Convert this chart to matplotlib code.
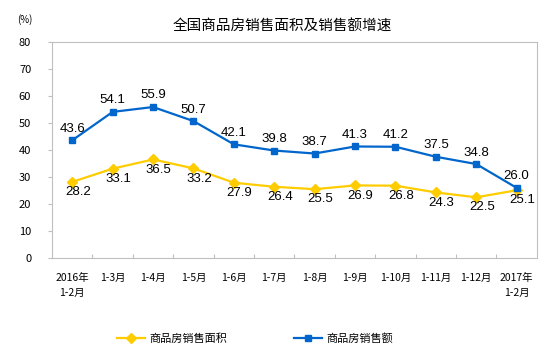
import matplotlib.pyplot as plt

plt.rcParams['font.family'] = ['Noto Sans CJK SC', 'DejaVu Sans']

# Data
categories = ["2016年\n1-2月", "1-3月", "1-4月", "1-5月", "1-6月", "1-7月",
              "1-8月", "1-9月", "1-10月", "1-11月", "1-12月", "2017年\n1-2月"]
area_growth = [28.2, 33.1, 36.5, 33.2, 27.9, 26.4, 25.5, 26.9, 26.8, 24.3, 22.5, 25.1]
sales_growth = [43.6, 54.1, 55.9, 50.7, 42.1, 39.8, 38.7, 41.3, 41.2, 37.5, 34.8, 26.0]

blue = "#0066CC"
yellow = "#FFCC00"

fig = plt.figure(figsize=(5.54, 3.58), dpi=100)
ax = fig.add_axes([0.094, 0.279, 0.875, 0.604])

x = list(range(len(categories)))
ax.plot(x, area_growth, color=yellow, lw=1.6, marker="D", ms=5, label="商品房销售面积")
ax.plot(x, sales_growth, color=blue, lw=1.6, marker="s", ms=5, label="商品房销售额")

num_font = ["Liberation Sans", "DejaVu Sans"]
for i, v in enumerate(sales_growth):
    ax.annotate(f"{v:.1f}", (i, v), xytext=(0, 4), textcoords="offset points",
                ha="center", va="bottom", fontsize=9.5, family=num_font)
for i, v in enumerate(area_growth):
    ax.annotate(f"{v:.1f}", (i, v), xytext=(4, -3), textcoords="offset points",
                ha="center", va="top", fontsize=9.5, family=num_font)

ax.set_xlim(-0.5, len(categories) - 0.5)
ax.set_ylim(0, 80)
ax.set_yticks(range(0, 81, 10))
ax.tick_params(axis="y", length=3, color="#BFBFBF", labelsize=8, pad=12)

ax.set_xticks([i + 0.5 for i in range(len(categories) - 1)])
ax.set_xticklabels([])
ax.tick_params(axis="x", direction="in", length=3, color="#BFBFBF")
for i, lab in enumerate(categories):
    ax.text(i, -5.5, lab, ha="center", va="top", fontsize=7.5, linespacing=1.6)

for s in ax.spines.values():
    s.set_color("#BFBFBF")

fig.text(0.51, 0.925, "全国商品房销售面积及销售额增速", ha="center", va="center", fontsize=10.5)
fig.text(0.045, 0.945, "(%)", ha="center", va="center", fontsize=7)

fig.legend(loc="center", bbox_to_anchor=(0.46, 0.055), ncol=2, frameon=False,
           fontsize=8, columnspacing=6, handlelength=2.5, handletextpad=0.4)

fig.savefig("out.png", dpi=100)
